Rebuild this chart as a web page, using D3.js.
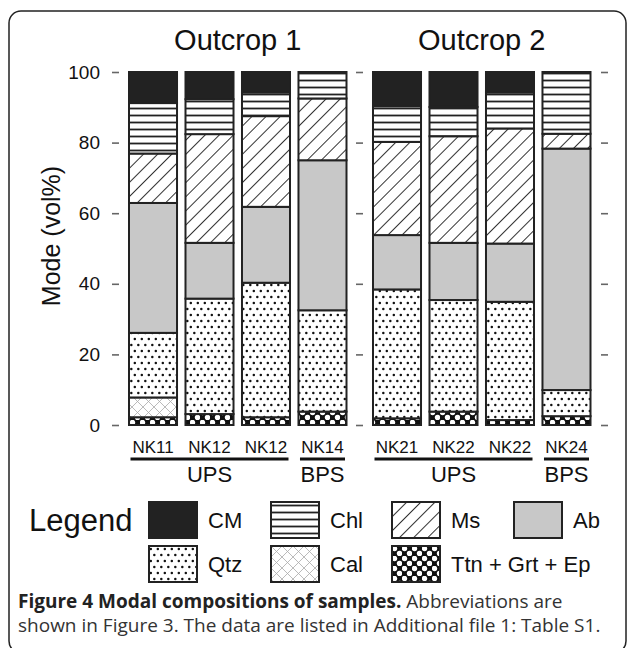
<!DOCTYPE html>
<html>
<head>
<meta charset="utf-8">
<script src="https://cdnjs.cloudflare.com/ajax/libs/d3/7.8.5/d3.min.js"></script>
<style>
  body { margin: 0; background: #fff; }
  svg { display: block; }
</style>
</head>
<body>
<div id="chart"></div>
<script>
// Samples along the x axis
var samples = ["NK11", "NK12", "NK12", "NK14", "NK21", "NK22", "NK22", "NK24"];
var outcrop = ["Outcrop 1", "Outcrop 1", "Outcrop 1", "Outcrop 1", "Outcrop 2", "Outcrop 2", "Outcrop 2", "Outcrop 2"];
var unit = ["UPS", "UPS", "UPS", "BPS", "UPS", "UPS", "UPS", "BPS"];
var outcrops = ["Outcrop 1", "Outcrop 2"];

// Mineral modes (vol%), bottom to top of each bar
var ttn = [2.2, 3.1, 2.2, 3.8, 1.9, 3.8, 1.4, 2.5];
var cal = [5.6, 0, 0, 0, 0, 0, 0, 0];
var qtz = [18.3, 32.7, 38.1, 28.7, 36.5, 31.6, 33.5, 7.4];
var ab  = [36.8, 15.8, 21.5, 42.5, 15.4, 16.2, 16.5, 68.4];
var ms  = [14.0, 30.8, 25.7, 17.5, 26.4, 30.2, 32.6, 4.2];
var chl = [14.3, 9.9, 6.7, 7.5, 10.1, 8.3, 10.2, 17.5];
var cm  = [8.8, 7.7, 5.8, 0, 9.7, 9.9, 5.8, 0];

var yTicks = [0, 20, 40, 60, 80, 100];

var minerals = ["ttn", "cal", "qtz", "ab", "ms", "chl", "cm"];
var series = {ttn: ttn, cal: cal, qtz: qtz, ab: ab, ms: ms, chl: chl, cm: cm};

// legend order, two rows
var legendRows = [["cm", "chl", "ms", "ab"], ["qtz", "cal", "ttn"]];
var legendNames = {cm: "CM", chl: "Chl", ms: "Ms", ab: "Ab", qtz: "Qtz", cal: "Cal", ttn: "Ttn + Grt + Ep"};

var W = 627, H = 648;
var font = "'Liberation Sans', Arial, Helvetica, sans-serif";

var svg = d3.select("#chart").append("svg")
    .attr("width", W)
    .attr("height", H);

// ---- fill patterns ----
var defs = svg.append("defs");

var pChl = defs.append("pattern").attr("id", "p-chl")
    .attr("patternUnits", "userSpaceOnUse").attr("width", 8).attr("height", 7);
pChl.append("rect").attr("width", 8).attr("height", 7).attr("fill", "#fff");
pChl.append("rect").attr("y", 2.6).attr("width", 8).attr("height", 1.8).attr("fill", "#222");

var pMs = defs.append("pattern").attr("id", "p-ms")
    .attr("patternUnits", "userSpaceOnUse").attr("width", 10).attr("height", 10)
    .attr("patternTransform", "rotate(45)");
pMs.append("rect").attr("width", 10).attr("height", 10).attr("fill", "#fff");
pMs.append("rect").attr("x", 0).attr("width", 1).attr("height", 10).attr("fill", "#333");

var pQtz = defs.append("pattern").attr("id", "p-qtz")
    .attr("patternUnits", "userSpaceOnUse").attr("width", 7).attr("height", 12);
pQtz.append("rect").attr("width", 7).attr("height", 12).attr("fill", "#fff");
pQtz.append("circle").attr("cx", 1.8).attr("cy", 3).attr("r", 1.25).attr("fill", "#111");
pQtz.append("circle").attr("cx", 5.3).attr("cy", 9).attr("r", 1.25).attr("fill", "#111");

var pCal = defs.append("pattern").attr("id", "p-cal")
    .attr("patternUnits", "userSpaceOnUse").attr("width", 11).attr("height", 11);
pCal.append("rect").attr("width", 11).attr("height", 11).attr("fill", "#fff");
pCal.append("path").attr("d", "M0,0L11,11M11,0L0,11")
    .attr("stroke", "#aaa").attr("stroke-width", 0.8).attr("fill", "none");

var pTtn = defs.append("pattern").attr("id", "p-ttn")
    .attr("patternUnits", "userSpaceOnUse").attr("width", 10).attr("height", 10);
pTtn.append("rect").attr("width", 10).attr("height", 10).attr("fill", "#111");
pTtn.append("circle").attr("cx", 2.5).attr("cy", 2.5).attr("r", 2.7).attr("fill", "#fff");
pTtn.append("circle").attr("cx", 7.5).attr("cy", 7.5).attr("r", 2.7).attr("fill", "#fff");

var fills = {
    cm: "#222222",
    chl: "url(#p-chl)",
    ms: "url(#p-ms)",
    ab: "#c8c8c8",
    qtz: "url(#p-qtz)",
    cal: "url(#p-cal)",
    ttn: "url(#p-ttn)"
};

// ---- frame ----
svg.append("rect")
    .attr("x", 9).attr("y", 11)
    .attr("width", 617).attr("height", 642)
    .attr("rx", 12)
    .attr("fill", "none")
    .attr("stroke", "#222")
    .attr("stroke-width", 1.5);

// ---- scales ----
var y = d3.scaleLinear().domain([0, 100]).range([425, 72]);

var xOut = d3.scaleBand()
    .domain(outcrops)
    .range([129, 590.5])
    .paddingInner(0.1086);

var xIn = d3.scaleBand()
    .domain([0, 1, 2, 3])
    .range([0, xOut.bandwidth()])
    .paddingInner(0.15);

function barX(i) {
    return xOut(outcrop[i]) + xIn(i % 4);
}

// stacked data
var rows = samples.map(function(s, i) {
    var r = {index: i};
    minerals.forEach(function(m) { r[m] = series[m][i]; });
    return r;
});
var stacked = d3.stack().keys(minerals)(rows);

// ---- bars ----
var layers = svg.append("g").selectAll("g")
    .data(stacked)
    .enter().append("g")
    .attr("fill", function(d) { return fills[d.key]; });

layers.selectAll("rect")
    .data(function(d) { return d.filter(function(p) { return p[1] - p[0] > 0; }); })
    .enter().append("rect")
    .attr("x", function(d) { return barX(d.data.index); })
    .attr("width", xIn.bandwidth())
    .attr("y", function(d) { return y(d[1]); })
    .attr("height", function(d) { return y(d[0]) - y(d[1]); })
    .attr("stroke", "#222")
    .attr("stroke-width", 2);

// ---- axes ----
var axisL = svg.append("g")
    .attr("transform", "translate(119,0)")
    .call(d3.axisLeft(y).tickValues(yTicks).tickSize(7).tickPadding(12));

var axisM = svg.append("g")
    .attr("transform", "translate(363,0)")
    .call(d3.axisLeft(y).tickValues(yTicks).tickSize(7).tickFormat(""));

var axisR = svg.append("g")
    .attr("transform", "translate(601,0)")
    .call(d3.axisRight(y).tickValues(yTicks).tickSize(7).tickFormat(""));

[axisL, axisM, axisR].forEach(function(a) {
    a.select(".domain").remove();
    a.selectAll(".tick line").attr("stroke", "#666").attr("stroke-width", 1.6);
    a.selectAll("text")
        .attr("fill", "#111")
        .style("font-family", font)
        .style("font-size", "19px");
});

// y label
svg.append("text")
    .attr("transform", "translate(60,236) rotate(-90)")
    .attr("text-anchor", "middle")
    .style("font-family", font)
    .style("font-size", "25px")
    .attr("fill", "#111")
    .text("Mode (vol%)");

// titles
svg.selectAll(".title")
    .data(outcrops)
    .enter().append("text")
    .attr("class", "title")
    .attr("x", function(d) { return xOut(d) + xOut.bandwidth() / 2; })
    .attr("y", 50)
    .attr("text-anchor", "middle")
    .style("font-family", font)
    .style("font-size", "29px")
    .attr("fill", "#111")
    .text(function(d) { return d; });

// sample labels
svg.selectAll(".sample")
    .data(samples)
    .enter().append("text")
    .attr("class", "sample")
    .attr("x", function(d, i) { return barX(i) + xIn.bandwidth() / 2; })
    .attr("y", 453)
    .attr("text-anchor", "middle")
    .style("font-family", font)
    .style("font-size", "17px")
    .attr("fill", "#111")
    .text(function(d) { return d; });

// unit groups (UPS / BPS) with underlines
var groups = [];
samples.forEach(function(s, i) {
    var last = groups[groups.length - 1];
    if (last && last.unit === unit[i] && last.outcrop === outcrop[i]) {
        last.end = i;
    } else {
        groups.push({unit: unit[i], outcrop: outcrop[i], start: i, end: i});
    }
});

var ug = svg.append("g").selectAll("g")
    .data(groups)
    .enter().append("g");

ug.append("line")
    .attr("x1", function(d) { return barX(d.start) + 1.5; })
    .attr("x2", function(d) { return barX(d.end) + xIn.bandwidth() - 1.5; })
    .attr("y1", 459).attr("y2", 459)
    .attr("stroke", "#111")
    .attr("stroke-width", 3);

ug.append("text")
    .attr("x", function(d) { return (barX(d.start) + barX(d.end) + xIn.bandwidth()) / 2; })
    .attr("y", 482)
    .attr("text-anchor", "middle")
    .style("font-family", font)
    .style("font-size", "22px")
    .attr("fill", "#111")
    .text(function(d) { return d.unit; });

// ---- legend ----
var legX = [149, 271, 392, 514];
var legY = [502, 546];

svg.append("text")
    .attr("x", 29)
    .attr("y", legY[0] + 29)
    .style("font-family", font)
    .style("font-size", "31px")
    .attr("fill", "#111")
    .text("Legend");

legendRows.forEach(function(row, r) {
    var items = svg.append("g").selectAll("g")
        .data(row)
        .enter().append("g")
        .attr("transform", function(d, i) { return "translate(" + legX[i] + "," + legY[r] + ")"; });

    items.append("rect")
        .attr("width", 48)
        .attr("height", 36)
        .attr("fill", function(d) { return fills[d]; })
        .attr("stroke", "#222")
        .attr("stroke-width", 2);

    items.append("text")
        .attr("x", 59)
        .attr("y", 26)
        .style("font-family", font)
        .style("font-size", "22px")
        .attr("fill", "#111")
        .text(function(d) { return legendNames[d]; });
});

// ---- caption ----
var cap = svg.append("text")
    .attr("x", 18)
    .attr("y", 608)
    .style("font-family", "'Open Sans', 'Noto Sans', sans-serif")
    .style("font-size", "19px")
    .attr("fill", "#333");
cap.append("tspan").attr("font-weight", "bold").attr("fill", "#222").text("Figure 4 Modal compositions of samples.");
cap.append("tspan").text(" Abbreviations are");

svg.append("text")
    .attr("x", 18)
    .attr("y", 632)
    .style("font-family", "'Open Sans', 'Noto Sans', sans-serif")
    .style("font-size", "19px")
    .attr("fill", "#333")
    .text("shown in Figure 3. The data are listed in Additional file 1: Table S1.");
</script>
</body>
</html>
